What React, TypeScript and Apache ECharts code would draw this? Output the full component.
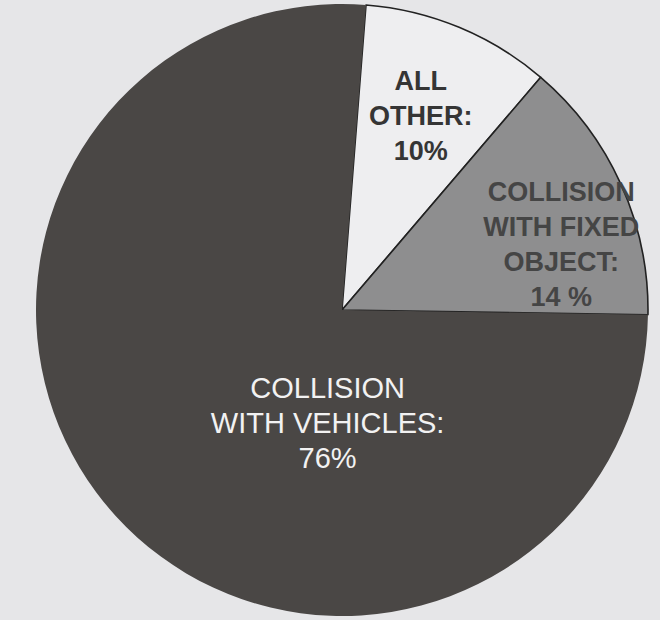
import React, { useEffect, useRef } from "react";
import * as echarts from "echarts";

const categories = [
  "ALL\nOTHER:\n10%",
  "COLLISION\nWITH FIXED\nOBJECT:\n14 %",
  "COLLISION\nWITH VEHICLES:\n76%",
];
const values = [10, 14, 76];
const sliceColors = ["#eeeef0", "#8e8e8f", "#4a4745"];
const textColors = ["#353535", "#454545", "#f2f2f2"];

export default function App() {
  const ref = useRef<HTMLDivElement>(null);
  useEffect(() => {
    if (!ref.current) return;
    const chart = echarts.init(ref.current, undefined, { renderer: "svg" });
    const shifts = [
      [19, -50],
      [77, -1],
      [101, 8],
    ];
    const weights = ["bold", "bold", "normal"];
    const sizes = [27, 27, 29];
    chart.setOption({
      animation: false,
      backgroundColor: "#e6e6e8",
      series: [
        {
          type: "pie",
          center: [342, 310],
          radius: 306,
          startAngle: 85.5,
          clockwise: true,
          avoidLabelOverlap: false,
          minShowLabelAngle: 0,
          silent: true,
          emphasis: { disabled: true },
          labelLine: { show: false },
          labelLayout: (params: any) => ({
            dx: shifts[params.dataIndex][0],
            dy: shifts[params.dataIndex][1],
          }),
          data: categories.map((name, i) => ({
            name,
            value: values[i],
            itemStyle: {
              color: sliceColors[i],
              borderColor: i < 2 ? "#222222" : sliceColors[i],
              borderWidth: i < 2 ? 1.6 : 0,
            },
            label: {
              show: true,
              position: "inside",
              formatter: "{b}",
              color: textColors[i],
              fontFamily: "Liberation Sans, Arial, sans-serif",
              fontWeight: weights[i],
              fontSize: sizes[i],
              lineHeight: 35,
              align: "center",
              verticalAlign: "middle",
            },
          })),
        },
      ],
    });
    return () => chart.dispose();
  }, []);
  return (
    <div
      ref={ref}
      style={{
        position: "fixed",
        left: 0,
        top: 0,
        width: 660,
        height: 620,
        background: "#e6e6e8",
      }}
    />
  );
}
